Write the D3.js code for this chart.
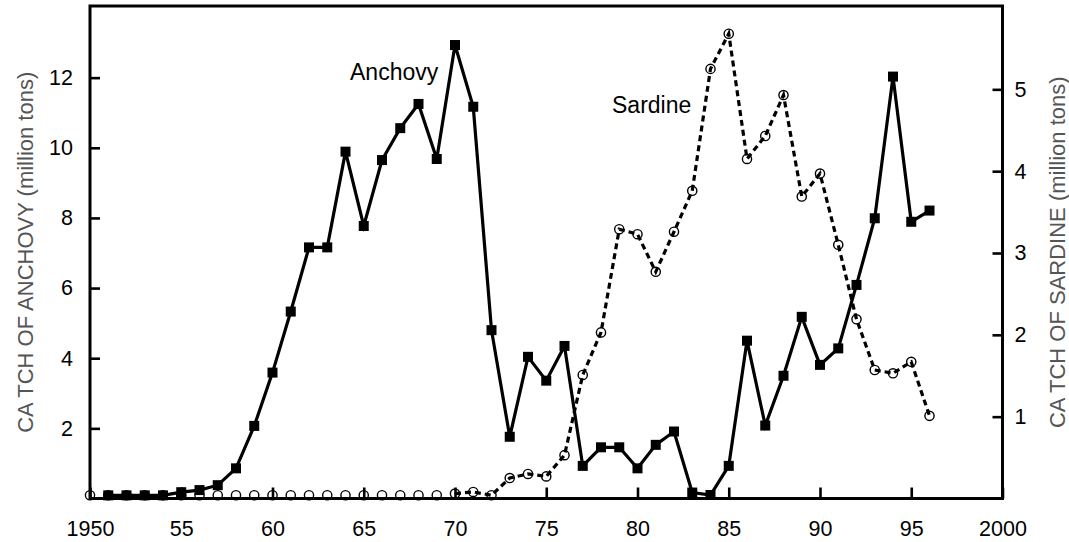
<!DOCTYPE html>
<html>
<head>
<meta charset="utf-8">
<script src="https://cdn.jsdelivr.net/npm/d3@7"></script>
<style>
  html, body { margin: 0; padding: 0; background: #fff; }
  svg { display: block; font-family: "Liberation Sans", Arial, Helvetica, sans-serif; }
</style>
</head>
<body>
<svg id="chart" width="1069" height="542"></svg>
<script>
// ---------- data ----------
const anchovyYears = [1951,1952,1953,1954,1955,1956,1957,1958,1959,1960,1961,1962,1963,1964,1965,1966,1967,1968,1969,1970,
  1971,1972,1973,1974,1975,1976,1977,1978,1979,1980,1981,1982,1983,1984,1985,1986,1987,1988,1989,1990,1991,1992,1993,1994,1995,1996];
const anchovyCatch = [0.09,0.09,0.09,0.09,0.18,0.24,0.38,0.86,2.07,3.59,5.33,7.16,7.16,9.89,7.77,9.65,10.56,11.25,9.68,12.93,
  11.17,4.80,1.76,4.04,3.36,4.35,0.93,1.46,1.46,0.86,1.53,1.91,0.17,0.10,0.93,4.50,2.08,3.50,5.18,3.81,4.28,6.09,7.99,12.03,7.89,8.21];

const sardineYears = [1950,1951,1952,1953,1954,1955,1956,1957,1958,1959,1960,1961,1962,1963,1964,1965,1966,1967,1968,1969,
  1970,1971,1972,1973,1974,1975,1976,1977,1978,1979,1980,1981,1982,1983,1984,1985,1986,1987,1988,1989,1990,1991,1992,1993,1994,1995,1996];
const sardineCatch = [0.04,0.04,0.04,0.04,0.04,0.04,0.04,0.04,0.04,0.04,0.04,0.04,0.04,0.04,0.04,0.04,0.04,0.04,0.04,0.04,
  0.06,0.08,0.04,0.25,0.30,0.27,0.53,1.51,2.03,3.29,3.23,2.77,3.26,3.76,5.25,5.68,4.15,4.43,4.93,3.69,3.97,3.10,2.19,1.57,1.53,1.67,1.01];
const sardineLineStart = 1970;

const xTicks = [1950,1955,1960,1965,1970,1975,1980,1985,1990,1995,2000];
const xTickLabels = ["1950","55","60","65","70","75","80","85","90","95","2000"];
const leftTicks = [2,4,6,8,10,12];
const rightTicks = [1,2,3,4,5];
const leftTitle = "CA TCH OF ANCHOVY (million tons)";
const rightTitle = "CA TCH OF SARDINE (million tons)";

// ---------- layout ----------
const L = 90, R = 1002.5, T = 6, B = 498.5;
const svg = d3.select("#chart");

const x = d3.scaleLinear().domain([1950, 2000]).range([L, R]);
const yL = d3.scaleLinear().domain([0, 14]).range([B, 7.5]);
const yR = d3.scaleLinear().domain([0, 6]).range([B, 7.5]);

const anchovy = anchovyYears.map((yr, i) => ({ yr, v: anchovyCatch[i] }));
const sardine = sardineYears.map((yr, i) => ({ yr, v: sardineCatch[i] }));

// ---------- lines ----------
svg.append("path")
  .datum(anchovy)
  .attr("fill", "none").attr("stroke", "#000").attr("stroke-width", 3.2)
  .attr("stroke-linejoin", "miter")
  .attr("d", d3.line().x(d => x(d.yr)).y(d => yL(d.v)));

svg.append("path")
  .datum(sardine.filter(d => d.yr >= sardineLineStart))
  .attr("fill", "none").attr("stroke", "#000").attr("stroke-width", 3.2)
  .attr("stroke-dasharray", "6,4")
  .attr("d", d3.line().x(d => x(d.yr)).y(d => yR(d.v)));

// ---------- markers ----------
svg.append("g").selectAll("rect").data(anchovy).join("rect")
  .attr("x", d => x(d.yr) - 5).attr("y", d => yL(d.v) - 5)
  .attr("width", 10).attr("height", 10).attr("fill", "#000");

svg.append("g").selectAll("circle").data(sardine).join("circle")
  .attr("cx", d => x(d.yr)).attr("cy", d => yR(d.v)).attr("r", 4.6)
  .attr("fill", "none").attr("stroke", "#000").attr("stroke-width", 1.4);

// ---------- axes ----------
const tickStyle = g => {
  g.select(".domain").remove();
  g.selectAll(".tick line").attr("stroke", "#000").attr("stroke-width", 2.6);
  g.selectAll(".tick text").attr("fill", "#000").attr("font-size", "21.5px")
    .attr("font-family", "'Liberation Sans', Arial, Helvetica, sans-serif");
};

svg.append("g").attr("transform", `translate(0,${B})`)
  .call(d3.axisBottom(x).tickValues(xTicks).tickFormat((d, i) => xTickLabels[i]).tickSizeInner(-11).tickSizeOuter(0).tickPadding(22))
  .call(tickStyle)
  .call(g => g.selectAll(".tick text").attr("dy", "0.71em"));

svg.append("g").attr("transform", `translate(${L},0)`)
  .call(d3.axisLeft(yL).tickValues(leftTicks).tickFormat(d3.format("d")).tickSizeInner(-10).tickSizeOuter(0).tickPadding(17))
  .call(tickStyle);

svg.append("g").attr("transform", `translate(${R},0)`)
  .call(d3.axisRight(yR).tickValues(rightTicks).tickFormat(d3.format("d")).tickSizeInner(-10).tickSizeOuter(0).tickPadding(12))
  .call(tickStyle);

// frame
svg.append("rect").attr("x", L).attr("y", T).attr("width", R - L).attr("height", B - T)
  .attr("fill", "none").attr("stroke", "#000").attr("stroke-width", 3);

// ---------- titles & annotations ----------
svg.append("text")
  .attr("transform", `translate(33,${(T + B) / 2}) rotate(-90)`)
  .attr("text-anchor", "middle").attr("font-size", "22px").attr("fill", "#555")
  .text(leftTitle);

svg.append("text")
  .attr("transform", `translate(1065,${(T + B) / 2}) rotate(-90)`)
  .attr("text-anchor", "middle").attr("font-size", "22px").attr("fill", "#555")
  .text(rightTitle);

svg.append("text").attr("x", 350).attr("y", 80).attr("font-size", "23px").attr("fill", "#000").text("Anchovy");
svg.append("text").attr("x", 612).attr("y", 113).attr("font-size", "23px").attr("fill", "#000").text("Sardine");
</script>
</body>
</html>
